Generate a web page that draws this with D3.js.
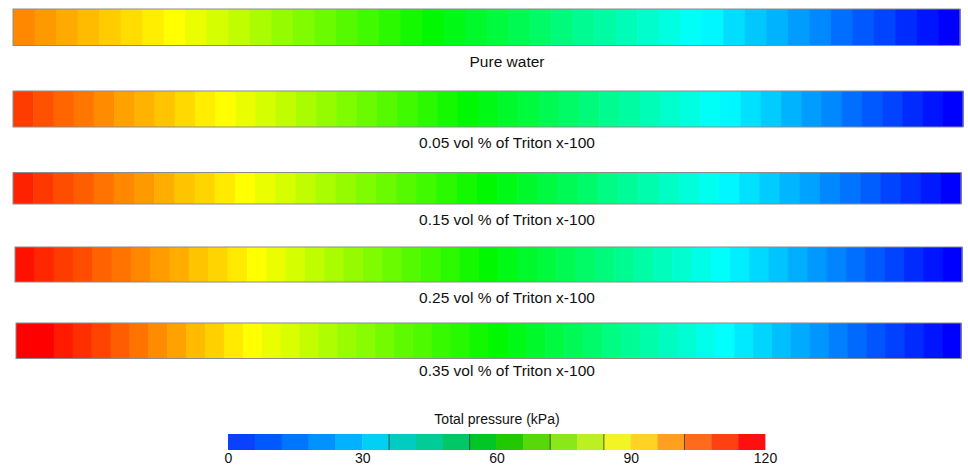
<!DOCTYPE html>
<html>
<head>
<meta charset="utf-8">
<script src="https://cdn.jsdelivr.net/npm/d3@7"></script>
<style>
  html, body { margin: 0; padding: 0; background: #ffffff; }
  svg { display: block; }
</style>
</head>
<body>
<div id="chart"></div>
<script>
// ---------------- DATA ----------------
const caseLabels = [
  "Pure water",
  "0.05 vol % of Triton x-100",
  "0.15 vol % of Triton x-100",
  "0.25 vol % of Triton x-100",
  "0.35 vol % of Triton x-100"
];

// Total pressure (kPa) in each cell along the pipe, inlet -> outlet
const pureWater = [104,102,100,98,96,94,92,90,87.5,85,82.5,80,77.5,75,72.5,70,67.5,65,62.5,60,
  57.5,55,53,50.5,48,45.5,43,41,38.5,36,33.5,31,29,26,23.5,21,18.5,16,13,10.5,8,5,2.5,0];
const triton005 = [113,110.5,108,106,103.5,101,99,97,94.5,92,90,
  87.5,85,82.5,80,77.5,75,72.5,70,67.5,65,62.5,60,
  57.5,55,53,50.5,48,45.5,43,41,38.5,36,33.5,31,
  29,26.5,24,21,18.5,16,13,10.5,8,5,2.5,0];
const triton015 = [116,113.5,111,109,106.5,104,102,99.5,97,95,92.5,90,
  87.5,85,82.5,80,77.5,75,72.5,70,67.5,65,62.5,60,
  57.5,55,52.5,50,47.5,44.5,42,39.5,37,34.5,32,
  29,26.5,24,21.5,19,16,13.5,11,8,5.5,3,0];
const triton025 = [118,115.5,113,111,108.5,106.5,104,101.5,99.5,97,95,92.5,90,
  87.5,85,82.5,80,77.5,75,72.5,70,67.5,65,62.5,60,
  57.5,55,53,50.5,48,45.5,43,40.5,38,35.5,33,30.5,
  28,25.5,23,20.5,18,15.5,13,10.5,8,5,2.5,0];
const triton035 = [122,120,117,114.5,112,109,106.5,103.5,101,98,95.5,92.5,90,
  87.5,85.5,83,80.5,78,76,73.5,71,69,66.5,64.5,62,60,
  57.5,55,52.5,50,47.5,45,42.5,40,37.5,35,32.5,30,
  27.5,25,22.5,20,17.5,15,12.5,10,7.5,5,2.5,0];
const caseValues = [pureWater, triton005, triton015, triton025, triton035];

// colour legend
const legendTitle = "Total pressure (kPa)";
const legendMin = 0, legendMax = 120, legendLevels = 20;
const legendTicks = [0, 30, 60, 90, 120];
const legendColors = ["#0a40ff","#0058ff","#0076ff","#0092ff","#00b2ff","#00d0f2",
  "#00ccc2","#00cc98","#00c866","#00c626","#22c800","#58d808","#8ae818","#bcf022",
  "#f2f424","#ffd224","#ffa020","#ff6a1c","#ff4012","#ff1010"];
const legendDarkEdges = [36, 54, 72, 84, 102]; // darker separators seen in the legend

// ---------------- LAYOUT ----------------
const W = 968, H = 467;
const pipeBoxes = [
  {x0: 13, x1: 960, y0: 9,   y1: 45.5, labelY: 67},
  {x0: 13, x1: 963, y0: 91,  y1: 127,  labelY: 147.5},
  {x0: 13, x1: 961, y0: 172.5, y1: 204, labelY: 225},
  {x0: 15, x1: 962, y0: 247, y1: 282,  labelY: 303},
  {x0: 16, x1: 961, y0: 323, y1: 358.5, labelY: 375.5}
];
const labelX = 507;

const svg = d3.select("#chart").append("svg")
  .attr("width", W).attr("height", H)
  .attr("viewBox", `0 0 ${W} ${H}`);

// continuous rainbow used for the pipe cells
const pipeColor = d3.scaleLinear()
  .domain([0, 30, 60, 90, 120])
  .range(["#0000ff", "#00ffff", "#00f800", "#ffff00", "#ff0000"])
  .interpolate(d3.interpolateRgb)
  .clamp(true);

caseValues.forEach((vals, k) => {
  const b = pipeBoxes[k];
  const x = d3.scaleBand().domain(d3.range(vals.length)).range([b.x0, b.x1]).padding(0);
  const g = svg.append("g");
  g.selectAll("rect.cell")
    .data(vals)
    .join("rect")
    .attr("class", "cell")
    .attr("x", (d, i) => x(i))
    .attr("y", b.y0)
    .attr("width", x.bandwidth() + 0.6)
    .attr("height", b.y1 - b.y0)
    .attr("fill", d => pipeColor(d));
  g.append("rect")
    .attr("x", b.x0).attr("y", b.y0)
    .attr("width", b.x1 - b.x0).attr("height", b.y1 - b.y0)
    .attr("fill", "none")
    .attr("stroke", "#8c8c8c")
    .attr("stroke-width", 1);
  svg.append("text")
    .attr("x", labelX).attr("y", b.labelY)
    .attr("text-anchor", "middle")
    .attr("font-family", "Liberation Sans, Arial, sans-serif")
    .attr("font-size", 15.5)
    .attr("fill", "#111")
    .text(caseLabels[k]);
});

// ---------------- LEGEND ----------------
const lx = d3.scaleLinear().domain([legendMin, legendMax]).range([228, 765]);
const step = (legendMax - legendMin) / legendLevels;
const levels = d3.range(legendLevels).map(i => legendMin + i * step);
const legY0 = 434, legY1 = 450;

svg.append("g").selectAll("rect")
  .data(levels)
  .join("rect")
  .attr("x", d => lx(d))
  .attr("y", legY0)
  .attr("width", d => lx(d + step) - lx(d) + 0.4)
  .attr("height", legY1 - legY0)
  .attr("fill", (d, i) => legendColors[i]);

svg.append("g").selectAll("line")
  .data(legendDarkEdges)
  .join("line")
  .attr("x1", d => lx(d)).attr("x2", d => lx(d))
  .attr("y1", legY0).attr("y2", legY1)
  .attr("stroke", "#2a2a2a").attr("stroke-opacity", 0.75)
  .attr("stroke-width", 1);

const axis = d3.axisBottom(lx).tickValues(legendTicks).tickSize(0).tickPadding(3)
  .tickFormat(d3.format("d"));
const ax = svg.append("g")
  .attr("transform", `translate(0,${legY1})`)
  .call(axis);
ax.select(".domain").remove();
ax.selectAll("text")
  .attr("font-family", "Liberation Sans, Arial, sans-serif")
  .attr("font-size", 14)
  .attr("fill", "#111");

svg.append("text")
  .attr("x", 497).attr("y", 424)
  .attr("text-anchor", "middle")
  .attr("font-family", "Liberation Sans, Arial, sans-serif")
  .attr("font-size", 14)
  .attr("fill", "#111")
  .text(legendTitle);
</script>
</body>
</html>
